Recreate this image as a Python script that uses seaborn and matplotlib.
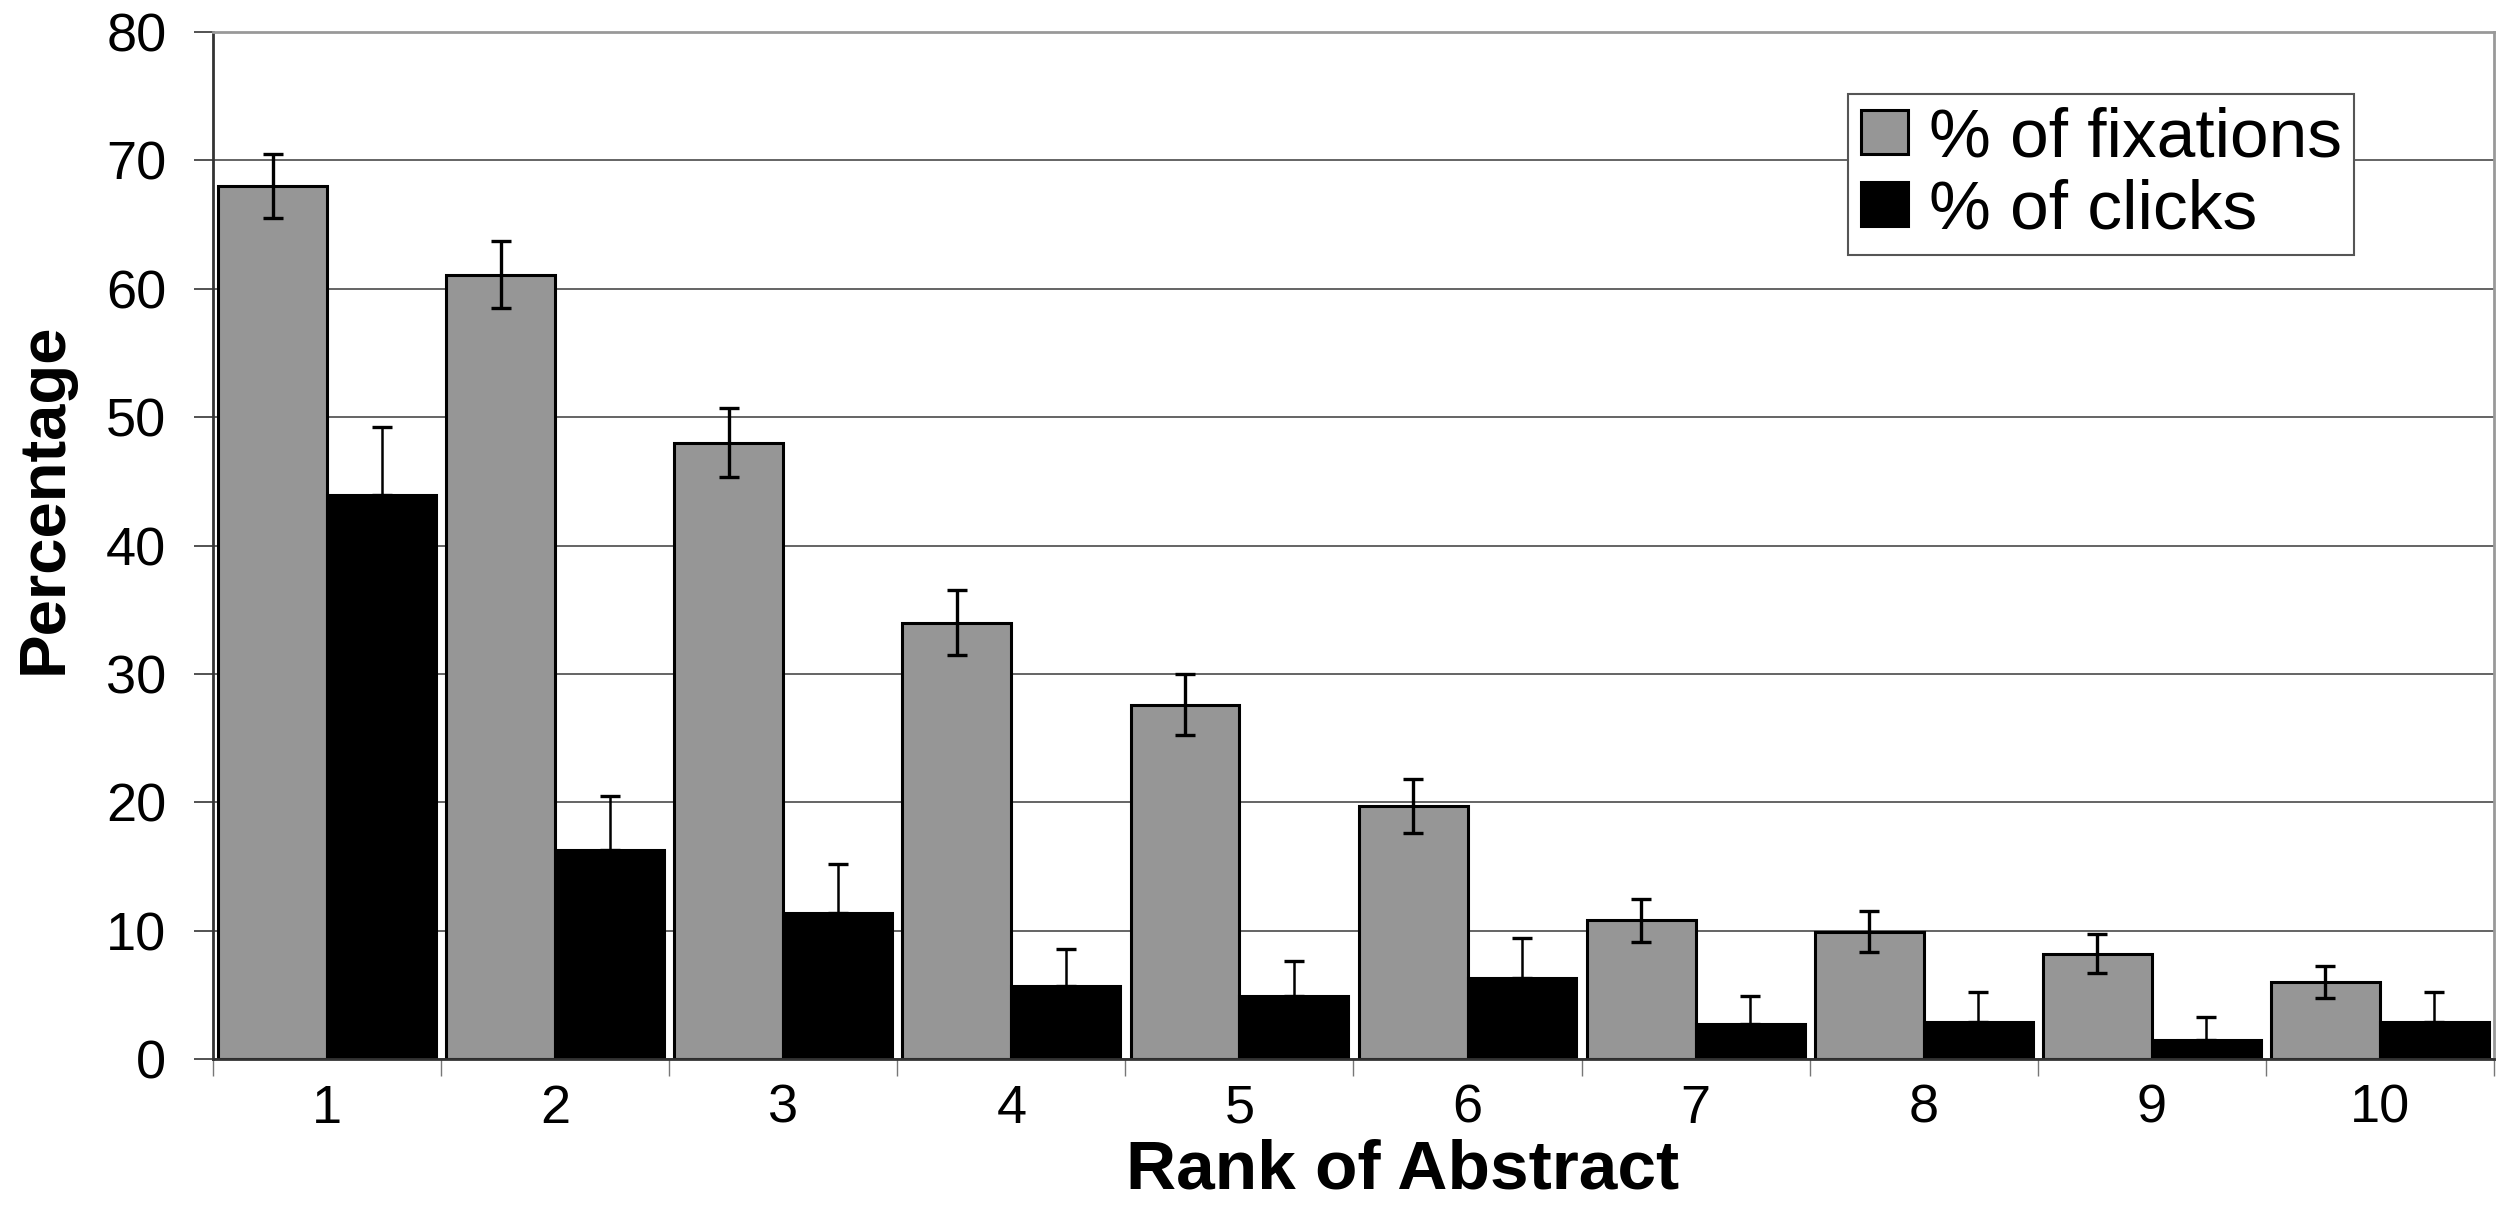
import numpy as np
import pandas as pd
import matplotlib
matplotlib.use("Agg")
import matplotlib.pyplot as plt
import seaborn as sns

# values
ranks = ["1", "2", "3", "4", "5", "6", "7", "8", "9", "10"]
fixations = [68.0, 61.1, 48.0, 34.0, 27.6, 19.7, 10.8, 9.9, 8.2, 6.0]
fixations_err = [2.5, 2.6, 2.7, 2.5, 2.4, 2.1, 1.65, 1.6, 1.5, 1.25]
clicks = [43.9, 16.3, 11.4, 5.7, 4.9, 6.3, 2.7, 2.9, 1.5, 2.9]
clicks_err = [5.3, 4.2, 3.8, 2.9, 2.7, 3.1, 2.2, 2.3, 1.8, 2.3]
series = ["% of fixations", "% of clicks"]
colors = ["#969696", "#000000"]
y_ticks = [0, 10, 20, 30, 40, 50, 60, 70, 80]

df = pd.DataFrame({
    "rank": ranks * 2,
    "value": fixations + clicks,
    "series": [series[0]] * len(ranks) + [series[1]] * len(ranks),
})

sns.set_style("white")
plt.rcParams["font.family"] = ["Liberation Sans", "DejaVu Sans"]
plt.rcParams["text.color"] = "black"
plt.rcParams["axes.labelcolor"] = "black"
plt.rcParams["xtick.labelcolor"] = "black"
plt.rcParams["ytick.labelcolor"] = "black"

fig = plt.figure(figsize=(25.09, 12.05), dpi=100)
ax = fig.add_axes([0.0849, 0.1212, 0.9091, 0.8522])

sns.barplot(data=df, x="rank", y="value", hue="series", order=ranks,
            hue_order=series, palette=colors, width=0.955, gap=0,
            edgecolor="black", linewidth=2.2, saturation=1, ax=ax)

# error bars: symmetric for fixations, upward only for clicks
for container, err, lw, sym in zip(ax.containers, [fixations_err, clicks_err], [2.4, 1.8], [True, False]):
    xs = [p.get_x() + p.get_width() / 2 for p in container]
    ys = [p.get_height() for p in container]
    yerr = [err, err] if sym else [np.zeros(len(err)), err]
    ax.errorbar(xs, ys, yerr=yerr, fmt="none", ecolor="black", elinewidth=lw,
                capsize=7.5, capthick=2.4, zorder=5)

ax.set_xlim(-0.5, len(ranks) - 0.5)
ax.set_ylim(0, 80)
ax.set_yticks(y_ticks)
ax.set_xticks(range(len(ranks)))
ax.set_xticklabels(ranks)
ax.set_xticks(np.arange(-0.5, len(ranks), 1.0), minor=True)

ax.set_axisbelow(True)
ax.yaxis.grid(True, color="#3a3a3a", linewidth=1.1)
ax.xaxis.grid(False)

ax.tick_params(axis="y", which="major", direction="out", length=13.5, width=1.3,
               color="#444444", labelsize=39, pad=20, left=True)
ax.tick_params(axis="x", which="major", length=0, labelsize=39, pad=18)
ax.tick_params(axis="x", which="minor", direction="out", length=12, width=1.0,
               color="#777777", bottom=True)

for side in ["left", "bottom"]:
    ax.spines[side].set_color("#333333")
    ax.spines[side].set_linewidth(2.0)
for side in ["top", "right"]:
    ax.spines[side].set_color("#999999")
    ax.spines[side].set_linewidth(2.0)

ax.set_xlabel("Rank of Abstract", fontsize=50, fontweight="bold")
ax.xaxis.set_label_coords(0.5217, -0.077)
ax.set_ylabel("Percentage", fontsize=47, fontweight="bold")
ax.yaxis.set_label_coords(-0.0605, 0.546)

handles, labels = ax.get_legend_handles_labels()
leg = ax.legend(handles, labels, loc="upper left", bbox_to_anchor=(0.717, 0.9396),
                borderaxespad=0, fontsize=50, frameon=True, fancybox=False,
                edgecolor="#555555", framealpha=1, borderpad=0.18,
                handlelength=0.68, handleheight=0.6, handletextpad=0.3,
                labelspacing=0.12)
leg.get_frame().set_linewidth(1.5)

fig.savefig("out.png", dpi=100)
